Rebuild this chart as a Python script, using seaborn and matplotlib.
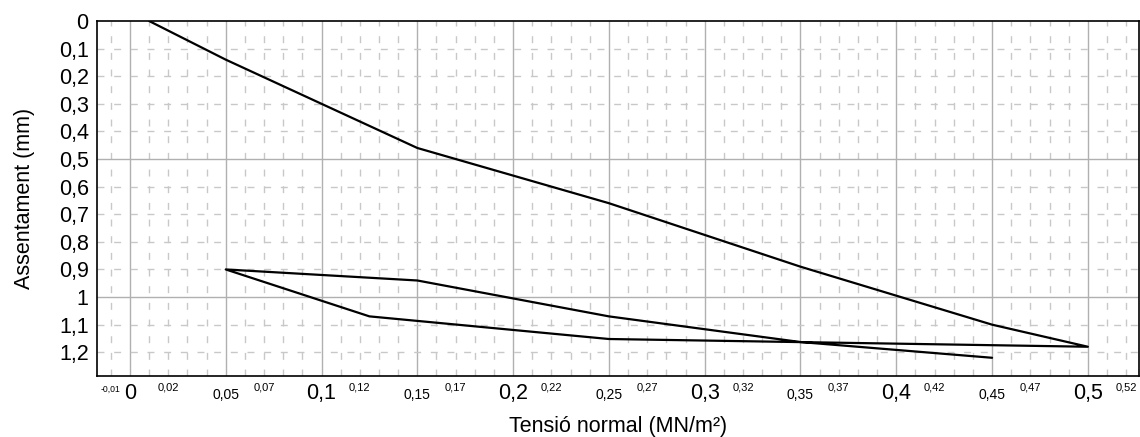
import numpy as np
import pandas as pd
import matplotlib
matplotlib.use("Agg")
import matplotlib.pyplot as plt
import seaborn as sns

# Data: load-settlement path (loading, unloading, reloading)
tension = [0.01, 0.05, 0.15, 0.25, 0.35, 0.45, 0.50,
           0.25, 0.125, 0.05,
           0.15, 0.25, 0.35, 0.45]
assentament = [0.0, 0.14, 0.46, 0.66, 0.89, 1.10, 1.18,
               1.152, 1.07, 0.90,
               0.94, 1.07, 1.163, 1.22]

x_big = [0.0, 0.1, 0.2, 0.3, 0.4, 0.5]
x_mid = [0.05, 0.15, 0.25, 0.35, 0.45]
x_small = [0.02, 0.07, 0.12, 0.17, 0.22, 0.27, 0.32, 0.37, 0.42, 0.47, 0.52]
x_tiny = [-0.01]
y_ticks = [0.0, 0.1, 0.2, 0.3, 0.4, 0.5, 0.6, 0.7, 0.8, 0.9, 1.0, 1.1, 1.2]

sns.set_theme(style="white")
plt.rcParams['font.family'] = ['Liberation Sans', 'DejaVu Sans']

def fmt(v):
    s = f"{v:.2f}".rstrip('0').rstrip('.')
    if s == "-0":
        s = "0"
    return s.replace('.', ',')

fig = plt.figure(figsize=(11.4, 4.37), dpi=100)
ax = fig.add_axes([97/1140, 1 - 376/437, (1139 - 97)/1140, (376 - 21)/437])

df = pd.DataFrame({"t": tension, "a": assentament, "o": range(len(tension))})
sns.lineplot(data=df, x="t", y="a", sort=False, estimator=None, color="black",
             linewidth=1.6, ax=ax, zorder=5)

ax.set_xlim(-0.0172, 0.5267)
ax.set_ylim(1.286, 0)

# grids
for v in np.arange(-0.01, 0.53, 0.01):
    if abs(round(v / 0.05) * 0.05 - v) < 1e-6:
        ax.axvline(v, color="#b0b0b0", linewidth=1.0, zorder=1)
    else:
        ax.axvline(v, color="#c8c8c8", linewidth=1.0, linestyle=(0, (5, 7)), zorder=1)
for v in np.arange(0.1, 1.29, 0.1):
    if abs(round(v / 0.5) * 0.5 - v) < 1e-6:
        ax.axhline(v, color="#b0b0b0", linewidth=1.0, zorder=1)
    else:
        ax.axhline(v, color="#c8c8c8", linewidth=1.0, linestyle=(0, (5, 7)), zorder=1)

# y ticks
ax.set_yticks(y_ticks)
ax.set_yticklabels([fmt(v) for v in y_ticks], fontsize=15.5)
ax.tick_params(axis='y', length=0, pad=6)

# x ticks with varying sizes
allx = x_tiny + x_big + x_mid + x_small
sizes = {}
for v in x_tiny:
    sizes[v] = (6.2, 6)
for v in x_big:
    sizes[v] = (15.5, 5)
for v in x_mid:
    sizes[v] = (10, 8.5)
for v in x_small:
    sizes[v] = (8, 5)
allx_sorted = sorted(allx)
ax.set_xticks(allx_sorted)
ax.set_xticklabels([fmt(v) for v in allx_sorted])
ax.tick_params(axis='x', length=0)
for tick, v in zip(ax.xaxis.get_major_ticks(), allx_sorted):
    fs, pad = sizes[v]
    tick.label1.set_fontsize(fs)
    tick.set_pad(pad)

for s in ax.spines.values():
    s.set_visible(True)
    s.set_color("black")
    s.set_linewidth(1.2)

ax.set_xlabel("Tensió normal (MN/m²)", fontsize=15.5, labelpad=9)
ax.set_ylabel("Assentament (mm)", fontsize=15.5, labelpad=17)
ax.tick_params(colors="black")
ax.xaxis.label.set_color("black")
ax.yaxis.label.set_color("black")

fig.savefig("out.png", dpi=100, facecolor="white")
